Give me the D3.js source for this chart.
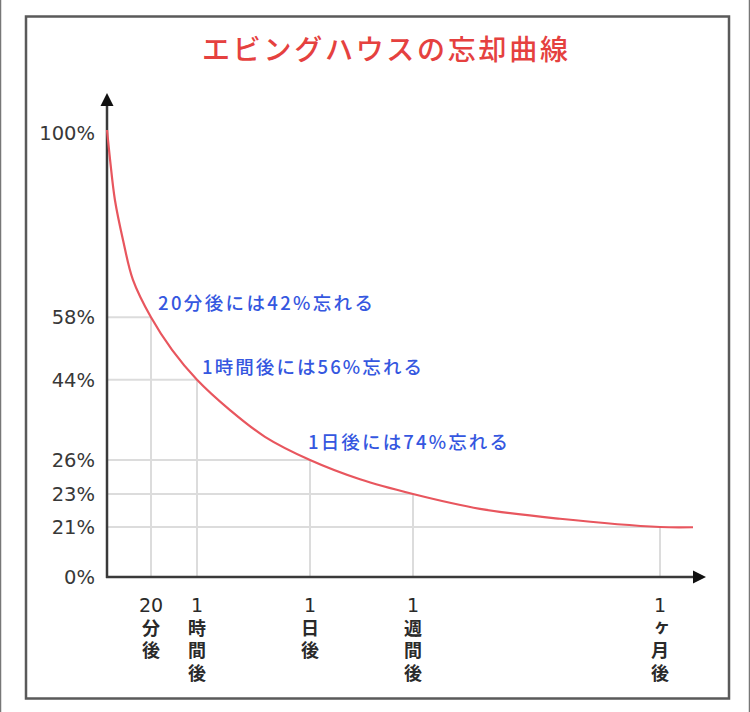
<!DOCTYPE html>
<html>
<head>
<meta charset="utf-8">
<script src="https://cdn.jsdelivr.net/npm/d3@7"></script>
<style>
  html, body { margin: 0; padding: 0; background: #ffffff; }
  svg { display: block; }
  .vert { writing-mode: vertical-rl; text-orientation: upright; }
</style>
</head>
<body>
<svg id="chart" width="750" height="712"></svg>
<script>
// ---- data ----
const title = "エビングハウスの忘却曲線";
// elapsed time (minutes) of the marked points
const markTimes = [20, 60, 1440, 10080, 43200];
const markRetention = [58, 44, 26, 23, 21];
const markNumbers = ["20", "1", "1", "1", "1"];
const markUnits = ["分後", "時間後", "日後", "週間後", "ヶ月後"];
// y tick values / labels
const yTicks = [0, 21, 23, 26, 44, 58, 100];
const yTickLabels = ["0%", "21%", "23%", "26%", "44%", "58%", "100%"];
// retention curve (minutes, %)
const curveTimes = [0, 1.4, 3.6, 7.3, 11.8, 20, 38.3, 60, 463, 890, 1440, 5634, 10080, 19064, 29791, 43200, 64800];
const curveRetention = [100, 93.3, 84.3, 75.3, 66.4, 58, 50.7, 44, 37.2, 31.2, 26, 24.3, 23, 22.1, 21.5, 21, 20.9];
// annotations
const noteTexts = ["20分後には42%忘れる", "1時間後には56%忘れる", "1日後には74%忘れる"];

// ---- scales (piecewise, as drawn in the original) ----
const x = d3.scaleLinear()
  .domain([0, 20, 60, 1440, 10080, 43200, 64800])
  .range([107, 151, 197, 310, 413, 660, 693]);
const y = d3.scaleLinear()
  .domain([0, 21, 23, 26, 100])
  .range([577, 527, 494, 460, 130]);

const svg = d3.select("#chart");
const jp = "'Noto Sans CJK JP', 'Noto Sans', sans-serif";

// outer thin edges
svg.append("line").attr("x1", 0.5).attr("x2", 0.5).attr("y1", 0).attr("y2", 712).attr("stroke", "#777").attr("stroke-width", 1.5);
svg.append("line").attr("x1", 749.5).attr("x2", 749.5).attr("y1", 0).attr("y2", 712).attr("stroke", "#777").attr("stroke-width", 1.5);
// frame
svg.append("rect").attr("x", 26).attr("y", 16.5).attr("width", 703).attr("height", 682)
  .attr("fill", "none").attr("stroke", "#5a5a5a").attr("stroke-width", 2.5);

// title
svg.append("text").attr("x", 385).attr("y", 60)
  .attr("text-anchor", "middle")
  .attr("font-family", jp).attr("font-size", 28).attr("font-weight", 500)
  .attr("fill", "#e5413f")
  .attr("textLength", 366).attr("lengthAdjust", "spacing")
  .text(title);

// grid lines (from curve points to the axes)
const grid = svg.append("g").attr("stroke", "#dcdcdc").attr("stroke-width", 2);
markTimes.forEach((t, i) => {
  grid.append("line").attr("x1", x(0)).attr("x2", x(t)).attr("y1", y(markRetention[i])).attr("y2", y(markRetention[i]));
  grid.append("line").attr("x1", x(t)).attr("x2", x(t)).attr("y1", y(markRetention[i])).attr("y2", y(0));
});

// axes
const axisCol = "#3a3a3a";
svg.append("line").attr("x1", x(0)).attr("x2", x(0)).attr("y1", y(0) + 1).attr("y2", 104).attr("stroke", axisCol).attr("stroke-width", 2.5);
svg.append("path").attr("d", `M${x(0)},93 L${x(0) - 6.5},106 L${x(0) + 6.5},106 Z`).attr("fill", "#111");
svg.append("line").attr("x1", x(0) - 1).attr("x2", 694).attr("y1", y(0)).attr("y2", y(0)).attr("stroke", axisCol).attr("stroke-width", 2.5);
svg.append("path").attr("d", `M706,${y(0)} L693,${y(0) - 6.5} L693,${y(0) + 6.5} Z`).attr("fill", "#111");

// y tick labels
svg.append("g").selectAll("text").data(yTicks).join("text")
  .attr("x", 95).attr("y", (d) => y(d) + (d === 100 ? 3 : 0))
  .attr("dy", "0.36em")
  .attr("text-anchor", "end")
  .attr("font-family", "'DejaVu Sans', sans-serif").attr("font-size", 19.5)
  .attr("fill", "#383838")
  .text((d, i) => yTickLabels[i]);

// x labels: number on top, unit characters stacked vertically below
markTimes.forEach((t, i) => {
  svg.append("text").attr("x", x(t)).attr("y", 612)
    .attr("text-anchor", "middle")
    .attr("font-family", "'DejaVu Sans', sans-serif").attr("font-size", 19)
    .attr("fill", "#2a2a2a")
    .text(markNumbers[i]);
  svg.append("text").attr("class", "vert")
    .attr("x", x(t)).attr("y", 619)
    .attr("font-family", jp).attr("font-size", 18).attr("font-weight", 700)
    .attr("letter-spacing", 4.5)
    .attr("fill", "#2a2a2a")
    .text(markUnits[i]);
});

// curve
const pts = curveTimes.map((t, i) => [x(t), y(curveRetention[i])]);
svg.append("path")
  .attr("d", d3.line().curve(d3.curveCatmullRom.alpha(0.5))(pts))
  .attr("fill", "none").attr("stroke", "#e8565e").attr("stroke-width", 2.2);

// annotations
const notePos = [[158, 303, 215], [202, 367, 220], [308, 442, 200]];
noteTexts.forEach((s, i) => {
  svg.append("text").attr("x", notePos[i][0]).attr("y", notePos[i][1])
    .attr("dy", "0.36em")
    .attr("font-family", jp).attr("font-size", 18.5).attr("font-weight", 500)
    .attr("fill", "#3557e0")
    .attr("textLength", notePos[i][2]).attr("lengthAdjust", "spacing")
    .text(s);
});
</script>
</body>
</html>
